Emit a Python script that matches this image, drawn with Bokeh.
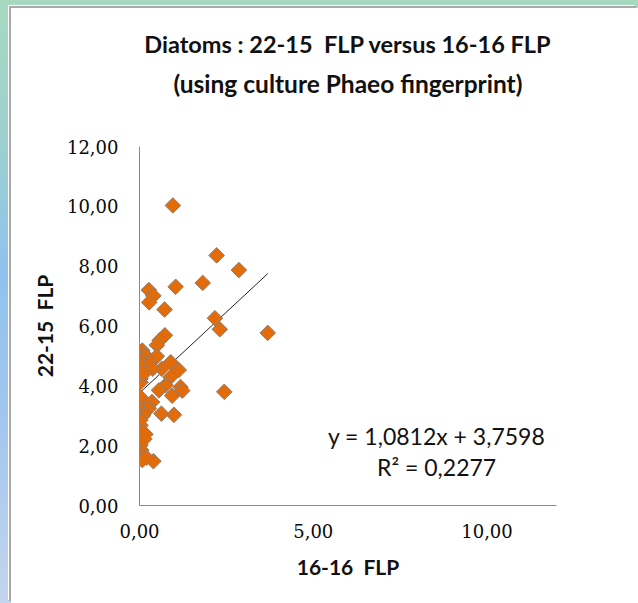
import math
from bokeh.plotting import figure
from bokeh.layouts import column
from bokeh.models import Range1d, Label, FixedTicker, Title
from bokeh.embed import file_html
from bokeh.resources import INLINE

# ---- data ----
x_vals = [0.96, 2.22, 2.86, 1.82, 1.04, 0.27, 0.40, 0.28, 0.72, 2.17,
          2.31, 3.69, 0.73, 0.58, 0.50, 0.08, 0.02, 0.17, 0.50, 0.03,
          0.30, 0.90, 0.64, 0.38, 1.13, 0.02, 0.03, 0.89, 0.03, 0.75,
          1.18, 0.56, 1.23, 2.44, 0.94, 0.03, 0.06, 0.36, 0.27, 0.03,
          0.10, 0.63, 0.99, 0.02, 0.03, 0.08, 0.17, 0.14, 0.03, 0.05,
          0.03, 0.08, 0.40, 0.20, 0.12]
y_vals = [10.03, 8.36, 7.87, 7.44, 7.31, 7.20, 7.01, 6.79, 6.55, 6.26,
          5.89, 5.77, 5.69, 5.52, 5.36, 5.18, 5.10, 5.02, 4.99, 4.85,
          4.76, 4.79, 4.57, 4.57, 4.53, 4.68, 4.24, 4.29, 4.12, 4.02,
          3.96, 3.85, 3.84, 3.80, 3.67, 3.62, 3.45, 3.46, 3.24, 3.18,
          3.00, 3.07, 3.03, 2.85, 2.68, 2.45, 2.38, 2.22, 2.02, 1.85,
          1.72, 1.52, 1.48, 1.60, 4.40]

slope = 1.0812
intercept = 3.7598
eq_text = "y = 1,0812x + 3,7598"
r2_text = "R\u00b2 = 0,2277"

x_ticks = [0, 5, 10]
x_tick_labels = ["0,00", "5,00", "10,00"]
y_ticks = [0, 2, 4, 6, 8, 10, 12]
y_tick_labels = ["0,00", "2,00", "4,00", "6,00", "8,00", "10,00", "12,00"]

title_line1 = "Diatoms : 22-15\u00a0 FLP versus 16-16 FLP"
title_line2 = "(using culture Phaeo fingerprint)"
x_label = "16-16\u00a0 FLP"
y_label = "22-15\u00a0 FLP"

p = figure(width=627, height=595, output_backend="svg", toolbar_location=None,
           x_range=Range1d(0, 12), y_range=Range1d(0, 12),
           min_border_left=128, min_border_right=82,
           min_border_top=138, min_border_bottom=98)
p.background_fill_color = "white"
p.border_fill_color = "white"
p.outline_line_color = None
p.grid.visible = False

# titles: spacer nearest the frame, then line 2, then p.title (line 1) outermost
p.title.text = title_line1
p.title.align = "center"
p.title.text_font = "Lato"
p.title.text_font_style = "bold"
p.title.text_font_size = "23.5px"
p.title.text_color = "#111111"
p.title.standoff = 14
spacer = Title(text=" ", text_font_size="1px", standoff=44)
t2 = Title(text=title_line2, align="center", text_font="Lato", text_font_style="bold",
           text_font_size="24.5px", text_color="#111111", standoff=4)
p.add_layout(spacer, "above")
p.add_layout(t2, "above")

for ax, ticks, labels in ((p.xaxis[0], x_ticks, x_tick_labels), (p.yaxis[0], y_ticks, y_tick_labels)):
    ax.ticker = FixedTicker(ticks=ticks)
    ax.major_label_overrides = {t: l for t, l in zip(ticks, labels)}
    ax.major_tick_line_color = None
    ax.minor_tick_line_color = None
    ax.axis_line_color = "#8a8a8a"
    ax.major_label_text_font = "DejaVu Serif"
    ax.major_label_text_font_size = "18px"
    ax.major_label_text_color = "#0a0a0a"
    ax.axis_label_text_font = "Lato"
    ax.axis_label_text_font_style = "bold"
    ax.axis_label_text_font_size = "21px"
    ax.axis_label_text_color = "#111111"

p.xaxis.axis_label = x_label
p.yaxis.axis_label = y_label
p.xaxis.major_label_standoff = 12
p.yaxis.major_label_standoff = 15
p.xaxis.axis_label_standoff = 13
p.yaxis.axis_label_standoff = 7

# trend line
tx = [0, max(x_vals)]
ty = [intercept + slope * v for v in tx]
p.line(tx, ty, line_color="#222222", line_width=1)

p.scatter(x_vals, y_vals, marker="square", size=11, angle=math.pi / 4,
          fill_color="#E36C0A", line_color="#8E7B6E", line_width=1)

for yy, txt in ((2.31, eq_text), (1.30, r2_text)):
    p.add_layout(Label(x=8.55, y=yy, text=txt, text_align="center", text_baseline="middle",
                       text_font="Lato", text_font_size="23px", text_color="#111111"))

p.margin = (8, 0, 0, 11)
p.styles = {"background-color": "white",
            "box-shadow": "-2px -2px 0 0 #a9a9a9, -3px -3px 0 0 #ffffff"}

layout = column(p, styles={"background": "linear-gradient(to bottom, #a7d9c0 0%, #9ccfd0 25%, #8fc2ee 45%, #a3c6ee 70%, #c3d5ec 100%)"})

open("out.html", "w").write(file_html(layout, INLINE))
